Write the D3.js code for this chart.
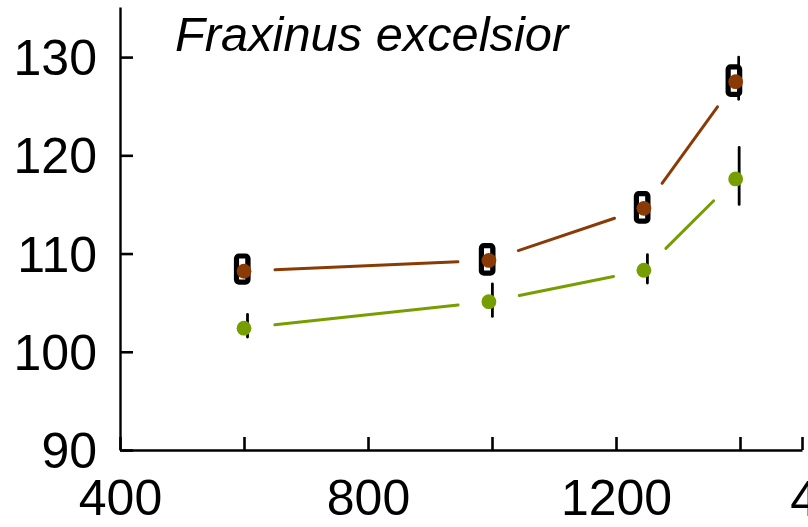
<!DOCTYPE html>
<html>
<head>
<meta charset="utf-8">
<script src="https://cdn.jsdelivr.net/npm/d3@7"></script>
<style>
  html, body { margin: 0; padding: 0; background: #fff; }
  svg { display: block; font-family: "Liberation Sans", Arial, sans-serif; }
</style>
</head>
<body>
<svg id="chart" width="808" height="527"></svg>
<script>
// ---- data ----
const title = "Fraxinus excelsior";
const elevation = [600, 995, 1245, 1393];
const brownMean = [108.2, 109.3, 114.6, 127.5];
const brownBoxLo = [107.1, 108.0, 113.3, 126.2];
const brownBoxHi = [109.75, 110.8, 116.1, 129.0];
const brownWhiskLo = [107.1, 108.0, 113.3, 125.7];
const brownWhiskHi = [109.75, 110.8, 116.1, 130.0];
const greenMean = [102.4, 105.1, 108.3, 117.6];
const greenLo = [101.5, 103.6, 107.0, 115.0];
const greenHi = [103.8, 106.9, 109.9, 120.8];
const xTicks = [400, 600, 800, 1000, 1200, 1400, 1500];
const xTickLabels = [400, 800, 1200];
const yTicks = [90, 100, 110, 120, 130];

const brownColor = "#8a3a04";
const greenColor = "#769e00";

const svg = d3.select("#chart");
const x = d3.scaleLinear().domain([400, 1500]).range([120, 802]);
const y = d3.scaleLinear().domain([90, 135.1]).range([450, 7]);

// axes
const xAxis = d3.axisBottom(x)
  .tickValues(xTicks)
  .tickSize(-13).tickSizeOuter(0).tickPadding(29)
  .tickFormat(d => xTickLabels.includes(d) ? d : "");
const gx = svg.append("g").attr("transform", "translate(0,450)").call(xAxis);

const yAxis = d3.axisLeft(y)
  .tickValues(yTicks)
  .tickSize(-13).tickSizeOuter(0).tickPadding(23);
const gy = svg.append("g").attr("transform", "translate(120,0)").call(yAxis);

[gx, gy].forEach(g => {
  g.select(".domain").attr("stroke", "#000").attr("stroke-width", 2.4);
  g.selectAll(".tick line").attr("stroke", "#000").attr("stroke-width", 2.6);
  g.selectAll(".tick text").attr("fill", "#000").attr("font-size", 50)
    .attr("font-family", "'Liberation Sans', Arial, sans-serif");
});
gy.selectAll(".tick text").attr("dy", "0.35em");

// neighbouring panel's axis label, cut by the frame
svg.append("text").attr("x", 832).attr("y", 516).attr("text-anchor", "middle")
  .attr("font-size", 50).attr("fill", "#000").text("400");

// title
svg.append("text").attr("x", 175).attr("y", 51)
  .attr("font-size", 48.8).attr("font-style", "italic").attr("fill", "#000")
  .text(title);

// connecting lines with gaps near points
function gapLines(means, color) {
  const pts = elevation.map((e, i) => [x(e), y(means[i])]);
  const gap = 31;
  for (let i = 0; i < pts.length - 1; i++) {
    const [x0, y0] = pts[i], [x1, y1] = pts[i + 1];
    const L = Math.hypot(x1 - x0, y1 - y0);
    const ux = (x1 - x0) / L, uy = (y1 - y0) / L;
    svg.append("line")
      .attr("x1", x0 + ux * gap).attr("y1", y0 + uy * gap)
      .attr("x2", x1 - ux * gap).attr("y2", y1 - uy * gap)
      .attr("stroke", color).attr("stroke-width", 3).attr("stroke-linecap", "round");
  }
}
gapLines(brownMean, brownColor);
gapLines(greenMean, greenColor);

// brown whiskers
svg.selectAll(".bw").data(elevation).enter().append("line")
  .attr("x1", d => x(d) + 3).attr("x2", d => x(d) + 3)
  .attr("y1", (d, i) => y(brownWhiskHi[i])).attr("y2", (d, i) => y(brownWhiskLo[i]))
  .attr("stroke", "#000").attr("stroke-width", 2.7).attr("stroke-linecap", "round");

// brown boxes
svg.selectAll(".bb").data(elevation).enter().append("rect")
  .attr("x", d => x(d) - 7.5).attr("width", 11.5)
  .attr("y", (d, i) => y(brownBoxHi[i]))
  .attr("height", (d, i) => y(brownBoxLo[i]) - y(brownBoxHi[i]))
  .attr("rx", 2.5).attr("fill", "none").attr("stroke", "#000").attr("stroke-width", 5.2);

// green whiskers
svg.selectAll(".gw").data(elevation).enter().append("line")
  .attr("x1", d => x(d) + 3.5).attr("x2", d => x(d) + 3.5)
  .attr("y1", (d, i) => y(greenHi[i])).attr("y2", (d, i) => y(greenLo[i]))
  .attr("stroke", "#000").attr("stroke-width", 2.8).attr("stroke-linecap", "round");

// points
svg.selectAll(".bp").data(elevation).enter().append("circle")
  .attr("cx", d => x(d)).attr("cy", (d, i) => y(brownMean[i])).attr("r", 7.4)
  .attr("fill", brownColor);
svg.selectAll(".gp").data(elevation).enter().append("circle")
  .attr("cx", d => x(d)).attr("cy", (d, i) => y(greenMean[i])).attr("r", 7.4)
  .attr("fill", greenColor);
</script>
</body>
</html>
